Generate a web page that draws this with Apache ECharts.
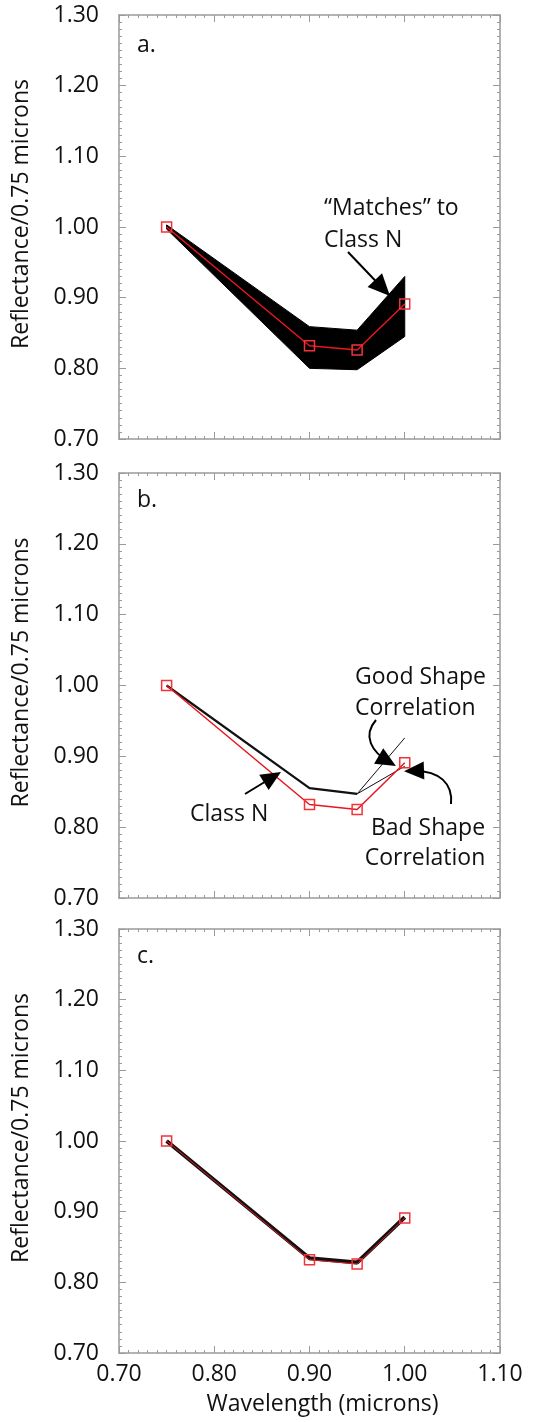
<!DOCTYPE html>
<html>
<head>
<meta charset="utf-8">
<script src="https://cdn.jsdelivr.net/npm/echarts@6/dist/echarts.min.js"></script>
<style>
html,body{margin:0;padding:0;background:#fff;}
#chart{width:533px;height:1422px;}
</style>
</head>
<body>
<div id="chart"></div>
<script>
// ---------- data ----------
const wavelengths = [0.75, 0.90, 0.95, 1.00];
const redA = [1.000, 0.832, 0.826, 0.891];
const bandUpperA = [1.003, 0.859, 0.854, 0.930];
const bandLowerA = [0.997, 0.800, 0.798, 0.845];

const redB = [1.000, 0.832, 0.825, 0.891];
const classNWavelengthsB = [0.75, 0.90, 0.95];
const classNB = [1.000, 0.855, 0.847];
const branchWavelengthsB = [0.95, 1.00];
const goodShapeB = [0.847, 0.926];
const badShapeB = [0.847, 0.886];

const redC = [1.000, 0.832, 0.826, 0.891];
const classNC = [1.000, 0.834, 0.828, 0.892];

const xRange = [0.70, 1.10];
const yRange = [0.70, 1.30];
const tickStep = 0.1;
const panelLetters = ['a.', 'b.', 'c.'];
const yAxisTitle = 'Reflectance/0.75 microns';
const xAxisTitle = 'Wavelength (microns)';

// ---------- styling ----------
const FONT = 'Open Sans';
const FS = 23;
const AXIS_COLOR = '#9a9a9a';
const RED = '#e8161e';
const grids = [
  {left: 119, top: 15, width: 381, height: 424},
  {left: 119, top: 473, width: 381, height: 425},
  {left: 119, top: 929, width: 381, height: 424}
];

function pairs(xs, ys) { return xs.map((x, i) => [x, ys[i]]); }

function baseAxis(range) {
  return {
    type: 'value', min: range[0], max: range[1], interval: tickStep,
    axisLine: {show: true, onZero: false, lineStyle: {color: AXIS_COLOR, width: 1.5}},
    axisTick: {show: true, inside: true, length: 7, lineStyle: {color: AXIS_COLOR, width: 1}},
    minorTick: {show: true, splitNumber: 10, length: 3, lineStyle: {color: AXIS_COLOR, width: 1}},
    splitLine: {show: false},
    minorSplitLine: {show: false}
  };
}

const xAxes = [], yAxes = [];
grids.forEach((g, i) => {
  const isLast = i === grids.length - 1;
  xAxes.push(Object.assign(baseAxis(xRange), {
    gridIndex: i, position: 'bottom',
    axisLabel: {show: isLast, fontFamily: FONT, fontSize: FS, color: '#111', margin: 10,
      showMinLabel: true, showMaxLabel: true, formatter: v => v.toFixed(2)},
    name: isLast ? xAxisTitle : '', nameLocation: 'middle', nameGap: 40,
    nameTextStyle: {fontFamily: FONT, fontSize: FS, color: '#111', padding: [0, 0, 0, 26]}
  }));
  xAxes.push(Object.assign(baseAxis(xRange), {
    gridIndex: i, position: 'top', axisLabel: {show: false}
  }));
  yAxes.push(Object.assign(baseAxis(yRange), {
    gridIndex: i, position: 'left',
    axisLabel: {show: true, fontFamily: FONT, fontSize: FS, color: '#111', margin: 20,
      showMinLabel: true, showMaxLabel: true, formatter: v => v.toFixed(2)},
    name: yAxisTitle, nameLocation: 'middle', nameGap: 86,
    nameTextStyle: {fontFamily: FONT, fontSize: FS, color: '#111', padding: [0, 0, 0, 26]}
  }));
  yAxes.push(Object.assign(baseAxis(yRange), {
    gridIndex: i, position: 'right', axisLabel: {show: false}
  }));
});

function redSeries(axisIdx, values, width) {
  return {
    type: 'line', xAxisIndex: axisIdx * 2, yAxisIndex: axisIdx * 2,
    data: pairs(wavelengths, values),
    symbol: 'rect', symbolSize: 10, showSymbol: true,
    lineStyle: {color: RED, width: width},
    itemStyle: {color: 'rgba(255,255,255,0)', borderColor: '#f2343a', borderWidth: 1.5},
    z: 5, silent: true
  };
}
function blackSeries(axisIdx, xs, ys, width) {
  return {
    type: 'line', xAxisIndex: axisIdx * 2, yAxisIndex: axisIdx * 2,
    data: pairs(xs, ys), symbol: 'none',
    lineStyle: {color: '#111', width: width}, z: 3, silent: true
  };
}

const series = [
  {
    type: 'custom', xAxisIndex: 0, yAxisIndex: 0,
    data: [[wavelengths[0], bandUpperA[0]]],
    renderItem: function (params, api) {
      const pts = [];
      wavelengths.forEach((w, i) => pts.push(api.coord([w, bandUpperA[i]])));
      for (let i = wavelengths.length - 1; i >= 0; i--) pts.push(api.coord([wavelengths[i], bandLowerA[i]]));
      return {type: 'polygon', shape: {points: pts}, style: {fill: '#000', stroke: '#000', lineWidth: 1}};
    },
    z: 1, silent: true
  },
  redSeries(0, redA, 1.5),
  blackSeries(1, classNWavelengthsB, classNB, 2.2),
  blackSeries(1, branchWavelengthsB, goodShapeB, 1),
  blackSeries(1, branchWavelengthsB, badShapeB, 1),
  redSeries(1, redB, 1.5),
  blackSeries(2, wavelengths, classNC, 4),
  redSeries(2, redC, 1)
];

// ---------- annotations ----------
function head(tipX, tipY, dx, dy, len, wid) {
  const l = Math.hypot(dx, dy); dx /= l; dy /= l;
  const bx = tipX - dx * len, by = tipY - dy * len;
  const px = -dy * wid / 2, py = dx * wid / 2;
  return {type: 'polygon', shape: {points: [[tipX, tipY], [bx + px, by + py], [bx - px, by - py]]},
    style: {fill: '#000'}, z: 100};
}
function straightArrow(x1, y1, x2, y2, len, wid) {
  const dx = x2 - x1, dy = y2 - y1, l = Math.hypot(dx, dy);
  const ex = x2 - dx / l * len * 0.6, ey = y2 - dy / l * len * 0.6;
  return [
    {type: 'line', shape: {x1: x1, y1: y1, x2: ex, y2: ey}, style: {stroke: '#000', lineWidth: 2}, z: 100},
    head(x2, y2, dx, dy, len, wid)
  ];
}
function curvedArrow(p0, c1, c2, p1, len, wid) {
  const dx = p1[0] - c2[0], dy = p1[1] - c2[1], l = Math.hypot(dx, dy);
  const tip = [p1[0] + dx / l * len * 0.4, p1[1] + dy / l * len * 0.4];
  return [
    {type: 'bezierCurve', shape: {x1: p0[0], y1: p0[1], cpx1: c1[0], cpy1: c1[1], cpx2: c2[0], cpy2: c2[1], x2: p1[0], y2: p1[1]},
      style: {stroke: '#000', lineWidth: 2, fill: null}, z: 100},
    head(tip[0], tip[1], dx, dy, len, wid)
  ];
}
function txt(x, y, s, align) {
  return {type: 'text', x: x, y: y, z: 100,
    style: {text: s, font: FS + 'px "' + FONT + '"', fill: '#111', align: align || 'left', verticalAlign: 'middle'}};
}

const graphics = [
  txt(137, 45, panelLetters[0]),
  txt(137, 500, panelLetters[1]),
  txt(137, 956, panelLetters[2]),
  txt(324, 208, '\u201cMatches\u201d to'),
  txt(324, 240, 'Class N'),
  txt(355, 677, 'Good Shape'),
  txt(355, 708, 'Correlation'),
  txt(190, 814, 'Class N'),
  txt(428, 828, 'Bad Shape', 'center'),
  txt(425, 858, 'Correlation', 'center')
].concat(
  straightArrow(348, 252, 390, 296, 22, 20),
  straightArrow(245, 794, 281, 772, 20, 18),
  curvedArrow([376, 720], [362, 736], [372, 752], [389, 762], 20, 18),
  curvedArrow([451, 804], [453, 784], [440, 770], [412, 771], 20, 18)
);

const chart = echarts.init(document.getElementById('chart'), null, {renderer: 'canvas'});
chart.setOption({
  animation: false,
  backgroundColor: '#fff',
  grid: grids,
  xAxis: xAxes,
  yAxis: yAxes,
  series: series,
  graphic: graphics
});
</script>
</body>
</html>
